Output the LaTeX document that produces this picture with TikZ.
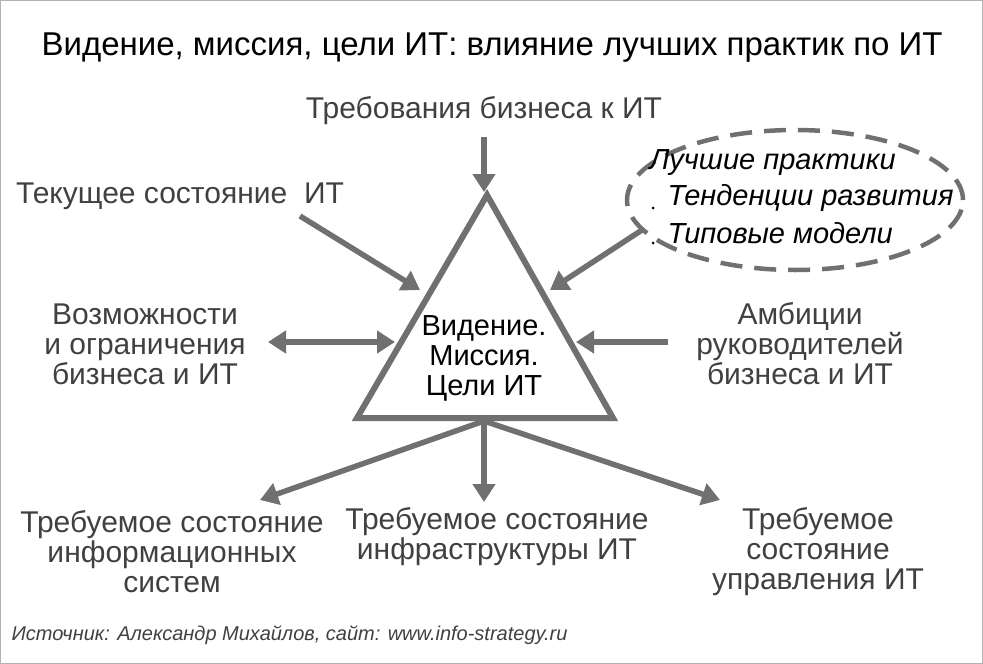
\documentclass[tikz,border=0pt]{standalone}
\usepackage{fontspec}
\setmainfont{Liberation Sans}
\usetikzlibrary{arrows.meta,shapes.geometric}
\begin{document}
\begin{tikzpicture}[x=1pt,y=-1pt,
  arr/.style={draw=arrgray,line width=5.5pt,-{Triangle[length=18pt,width=22pt]}},
  darr/.style={draw=arrgray,line width=5.5pt,{Triangle[length=18pt,width=22pt]}-{Triangle[length=18pt,width=22pt]}},
  lbl/.style={text=txtgray,font=\fontsize{30}{30}\selectfont,align=center},
  ell/.style={font=\fontsize{29}{30}\selectfont\itshape,anchor=west,text=black}]
\definecolor{arrgray}{HTML}{707070}
\definecolor{txtgray}{HTML}{404040}
\useasboundingbox (0,0) rectangle (983,664);
\draw[gray!60,line width=1pt] (0.5,0.5) rectangle (982.5,663.5);
\node[font=\fontsize{33}{36}\selectfont] (title) at (492,48) {Видение, миссия, цели ИТ: влияние лучших практик по ИТ};
\draw[arrgray,line width=6pt,line join=miter] (487,195) -- (613,418) -- (357,418) -- cycle;
\coordinate (apex) at (484,192);
\coordinate (tl) at (420,290);
\coordinate (tr) at (550,290);
\coordinate (ml) at (395,342);
\coordinate (mr) at (576,342);
\coordinate (bc) at (484,421);
\node[font=\fontsize{29}{30}\selectfont,align=center] (center) at (484,358) {Видение.\\Миссия.\\Цели ИТ};
\node[lbl] (req) at (484,111) {Требования бизнеса к ИТ};
\node[lbl] (cur) at (180,196) {Текущее состояние\ \ ИТ};
\node[lbl] (poss) at (145,344) {Возможности\\и ограничения\\бизнеса и ИТ};
\node[lbl] (amb) at (800,344) {Амбиции\\руководителей\\бизнеса и ИТ};
\node[lbl] (b1) at (172,552) {Требуемое состояние\\информационных\\систем};
\node[lbl] (b2) at (497,537) {Требуемое состояние\\инфраструктуры ИТ};
\node[lbl] (b3) at (818,552) {Требуемое\\состояние\\управления ИТ};
\node[draw=arrgray,line width=4.5pt,dash pattern=on 22pt off 12pt,ellipse,minimum width=336pt,minimum height=140pt] (ellp) at (795,200) {};
\node[ell] (e1) at (646,163) {Лучшие практики};
\node[ell] (e2) at (664,198) {Тенденции развития};
\node[ell] (e3) at (664,233) {Типовые модели};
\fill (653,208) circle (1.5pt) (653,243) circle (1.5pt);
\node[anchor=west,text=txtgray,font=\fontsize{20}{22}\selectfont\itshape] (src) at (8,635) {Источник: Александр Михайлов, сайт: www.info-strategy.ru};
\draw[arr] (484,137) -- (apex);
\draw[arr] (300,216) -- (tl);
\draw[arr] (642,230) -- (tr);
\draw[darr] (268,342) -- (ml);
\draw[arr] (668,342) -- (mr);
\draw[arr] (bc) -- (260,500);
\draw[arr] (bc) -- (484,502);
\draw[arr] (bc) -- (720,500);
\end{tikzpicture}
\end{document}
